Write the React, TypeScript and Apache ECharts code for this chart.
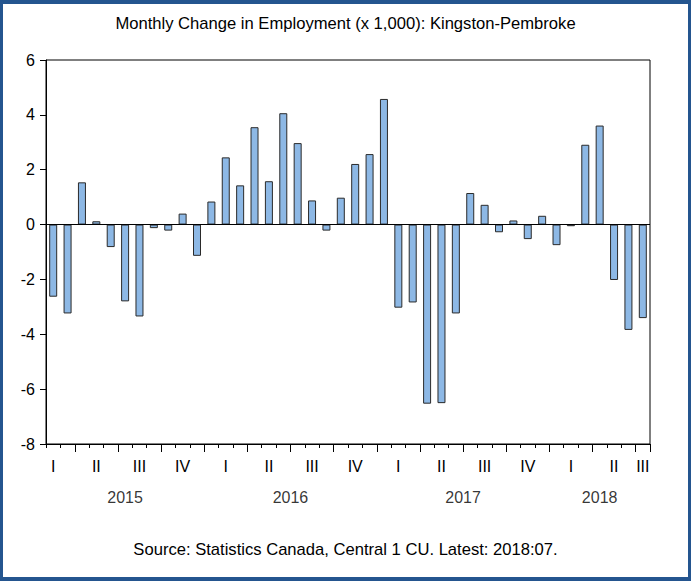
import React, { useEffect, useRef } from 'react';
import * as echarts from 'echarts';

const titleText = 'Monthly Change in Employment (x 1,000): Kingston-Pembroke';
const sourceText = 'Source: Statistics Canada, Central 1 CU. Latest: 2018:07.';

const months = [
  '2015:02', '2015:03', '2015:04', '2015:05', '2015:06', '2015:07', '2015:08', '2015:09', '2015:10', '2015:11', '2015:12',
  '2016:01', '2016:02', '2016:03', '2016:04', '2016:05', '2016:06', '2016:07', '2016:08', '2016:09', '2016:10', '2016:11', '2016:12',
  '2017:01', '2017:02', '2017:03', '2017:04', '2017:05', '2017:06', '2017:07', '2017:08', '2017:09', '2017:10', '2017:11', '2017:12',
  '2018:01', '2018:02', '2018:03', '2018:04', '2018:05', '2018:06', '2018:07',
];

const changes = [
  -2.63, -3.24, 1.54, 0.12, -0.82, -2.80, -3.35, -0.13, -0.22, 0.40, -1.14,
  0.84, 2.45, 1.43, 3.55, 1.58, 4.06, 2.97, 0.88, -0.22, 0.98, 2.21, 2.57,
  4.58, -3.03, -2.84, -6.53, -6.51, -3.24, 1.15, 0.72, -0.28, 0.15, -0.53, 0.32,
  -0.75, -0.06, 2.91, 3.61, -2.02, -3.84, -3.41,
];

const quarterNames = ['I', 'II', 'III', 'IV'];
const yTicks = { min: -8, max: 6, interval: 2 };

const FONT = "'Liberation Sans', Arial, sans-serif";
const FS = 16;
const FS_TEXT = 16.6;

function buildQuarterLabels(): Record<number, string> {
  const groups: Record<string, number[]> = {};
  const order: string[] = [];
  months.forEach((m, i) => {
    const [y, mm] = m.split(':');
    const q = Math.floor((parseInt(mm, 10) - 1) / 3);
    const key = y + '-' + q;
    if (!groups[key]) { groups[key] = []; order.push(key); }
    groups[key].push(i);
  });
  const out: Record<number, string> = {};
  order.forEach((key) => {
    const idx = groups[key];
    const q = parseInt(key.split('-')[1], 10);
    out[idx[Math.floor((idx.length - 1) / 2)]] = quarterNames[q];
  });
  return out;
}

function buildYearLabels(): [number, number, string][] {
  const first: Record<string, number> = {};
  const last: Record<string, number> = {};
  const order: string[] = [];
  months.forEach((m, i) => {
    const y = m.split(':')[0];
    if (first[y] === undefined) { first[y] = i; order.push(y); }
    last[y] = i;
  });
  return order.map((y) => [(first[y] + last[y] + 1) / 2, yTicks.min, y]);
}

export default function App() {
  const ref = useRef<HTMLDivElement>(null);
  useEffect(() => {
    if (!ref.current) return;
    const chart = echarts.init(ref.current, undefined, { renderer: 'svg' });
    const quarterLabels = buildQuarterLabels();
    const yearLabels = buildYearLabels();
    const isQuarterStart = (i: number) => {
      const mm = months[i].split(':')[1];
      return mm === '01' || mm === '04' || mm === '07' || mm === '10';
    };
    chart.setOption({
      animation: false,
      backgroundColor: '#ffffff',
      textStyle: { fontFamily: FONT },
      title: [
        {
          text: titleText,
          left: 'center',
          top: 10,
          textStyle: { fontSize: FS_TEXT, fontWeight: 'normal', color: '#000', fontFamily: FONT },
        },
        {
          text: sourceText,
          left: 'center',
          top: 536,
          textStyle: { fontSize: FS_TEXT, fontWeight: 'normal', color: '#000', fontFamily: FONT },
        },
      ],
      grid: {
        left: 46, right: 41, top: 60, bottom: 137,
        show: true, borderColor: '#000', borderWidth: 1, backgroundColor: 'transparent',
      },
      xAxis: [
        {
          type: 'category',
          data: months,
          position: 'bottom',
          boundaryGap: true,
          axisLine: { show: true, onZero: false, lineStyle: { color: '#000', width: 1 } },
          axisTick: { show: true, length: 4, lineStyle: { color: '#000' }, interval: 0 },
          axisLabel: {
            show: true,
            interval: 0,
            margin: 14,
            fontSize: FS,
            color: '#000',
            fontFamily: FONT,
            hideOverlap: false,
            formatter: (_v: string, i: number) => quarterLabels[i] || '',
          },
          splitLine: { show: false },
        },
        {
          type: 'category',
          data: months,
          position: 'bottom',
          offset: 0,
          boundaryGap: true,
          axisLine: { show: false, onZero: false },
          axisTick: {
            show: true, length: 8, lineStyle: { color: '#000' },
            interval: (i: number) => isQuarterStart(i),
          },
          axisLabel: { show: false },
          splitLine: { show: false },
        },
        {
          type: 'value',
          min: 0,
          max: months.length,
          show: false,
        },
      ],
      yAxis: {
        type: 'value',
        min: yTicks.min,
        max: yTicks.max,
        interval: yTicks.interval,
        axisLine: { show: true, onZero: false, lineStyle: { color: '#000', width: 1 } },
        axisTick: { show: true, length: 6, lineStyle: { color: '#000' } },
        axisLabel: { fontSize: FS, color: '#000', margin: 11, fontFamily: FONT },
        splitLine: { show: false },
      },
      series: [
        {
          type: 'bar',
          xAxisIndex: 0,
          yAxisIndex: 0,
          data: changes,
          barWidth: 8,
          itemStyle: { color: '#8DB8E5', borderColor: '#2a2a2a', borderWidth: 1 },
          markLine: {
            silent: true,
            symbol: 'none',
            label: { show: false },
            lineStyle: { color: '#000', width: 1, type: 'solid' },
            data: [{ yAxis: 0 }],
          },
        },
        {
          type: 'scatter',
          xAxisIndex: 2,
          yAxisIndex: 0,
          data: yearLabels,
          symbolSize: 0,
          clip: false,
          silent: true,
          label: {
            show: true,
            position: 'bottom',
            distance: 45,
            fontSize: FS,
            color: '#000',
            fontFamily: FONT,
            formatter: (p: any) => p.data[2],
          },
        },
      ],
    });
    return () => chart.dispose();
  }, []);
  return (
    <div style={{ position: 'absolute', left: 0, top: 0, width: 691, height: 581 }}>
      <div ref={ref} style={{ position: 'absolute', left: 0, top: 0, width: 691, height: 581 }} />
      <div
        style={{
          position: 'absolute', left: 0, top: 0, width: 691, height: 581, boxSizing: 'border-box',
          borderStyle: 'solid', borderColor: '#24558F', borderWidth: '4px 3px 4px 3px', pointerEvents: 'none',
        }}
      />
    </div>
  );
}
